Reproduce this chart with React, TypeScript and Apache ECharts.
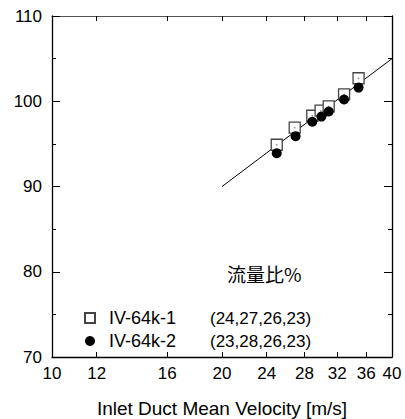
import React, { useEffect, useRef } from "react";
import * as echarts from "echarts";

const xTickValues = [10, 12, 16, 20, 24, 28, 32, 36, 40];
const seriesNames = ["IV-64k-1", "IV-64k-2"];
const flowRatios = ["(24,27,26,23)", "(23,28,26,23)"];
const velocity1 = [25.0, 26.9, 28.9, 29.9, 30.9, 32.9, 34.9];
const value1 = [94.9, 96.9, 98.3, 98.9, 99.4, 100.8, 102.7];
const velocity2 = [25.0, 27.0, 28.9, 30.0, 30.9, 32.9, 34.9];
const value2 = [93.9, 95.9, 97.6, 98.2, 98.8, 100.2, 101.6];
const fitX = [20, 40];
const fitY = [90, 105];
const annotation = "流量比%";
const xTitle = "Inlet Duct Mean Velocity [m/s]";

const FONT = "Liberation Sans, Arial, sans-serif";

export default function App() {
  const ref = useRef<HTMLDivElement>(null);
  useEffect(() => {
    if (!ref.current) return;
    const chart = echarts.init(ref.current, null, { renderer: "svg" });
    const pts = (xs: number[], ys: number[]) => xs.map((x, i) => [x, ys[i]]);
    const xBase = {
      type: "log",
      logBase: 10,
      min: 10,
      max: 40,
      splitLine: { show: false },
      minorTick: { show: false },
    };
    const option: any = {
      animation: false,
      backgroundColor: "#fff",
      textStyle: { fontFamily: FONT },
      grid: { left: 52, right: 13, top: 16, bottom: 62, containLabel: false, outerBoundsMode: "none" },
      title: {
        text: annotation,
        left: 222,
        top: 259,
        textStyle: {
          fontFamily: "Noto Sans CJK JP",
          fontSize: 19,
          fontWeight: "normal",
          color: "#000",
        },
      },
      legend: {
        orient: "vertical",
        left: 79,
        top: 304,
        itemGap: 5,
        itemWidth: 10,
        itemHeight: 10,
        data: [
          { name: seriesNames[0], icon: "rect" },
          { name: seriesNames[1], icon: "circle" },
        ],
        formatter: (name: string) =>
          `{a|${name}}{b|${flowRatios[seriesNames.indexOf(name)]}}`,
        textStyle: {
          color: "#000",
          fontSize: 17,
          fontFamily: FONT,
          rich: {
            a: { fontSize: 18, fontFamily: FONT, color: "#000", width: 101, padding: [0, 0, 0, 9] },
            b: { fontSize: 17, fontFamily: FONT, color: "#000" },
          },
        },
      },
      xAxis: [
        {
          ...xBase,
          position: "bottom",
          name: xTitle,
          nameLocation: "middle",
          nameGap: 42,
          nameTextStyle: { fontSize: 19, color: "#000", fontFamily: FONT },
          axisLine: { show: true, lineStyle: { color: "#000", width: 1.3 } },
          axisTick: { show: true, inside: true, length: 5, customValues: xTickValues, lineStyle: { color: "#000" } },
          axisLabel: {
            show: true,
            customValues: xTickValues,
            fontSize: 17,
            color: "#000",
            margin: 8,
            fontFamily: FONT,
            formatter: (v: number) => String(Math.round(v)),
          },
        },
        {
          ...xBase,
          position: "top",
          axisLine: { show: true, lineStyle: { color: "#555", width: 1.2 } },
          axisTick: { show: true, inside: true, length: 5, customValues: xTickValues, lineStyle: { color: "#000" } },
          axisLabel: { show: false },
        },
      ],
      yAxis: [
        {
          type: "value",
          position: "left",
          min: 70,
          max: 110,
          interval: 10,
          splitLine: { show: false },
          axisLine: { show: true, lineStyle: { color: "#000", width: 1.3 } },
          axisTick: { show: true, inside: true, length: 8, lineStyle: { color: "#000" } },
          minorTick: { show: true, splitNumber: 2, length: 4, lineStyle: { color: "#000" } },
          axisLabel: { fontSize: 17, color: "#000", margin: 10, fontFamily: FONT },
        },
        {
          type: "value",
          position: "right",
          min: 70,
          max: 110,
          interval: 10,
          splitLine: { show: false },
          axisLine: { show: true, lineStyle: { color: "#000", width: 1.3 } },
          axisTick: { show: true, inside: true, length: 8, lineStyle: { color: "#000" } },
          minorTick: { show: true, splitNumber: 2, length: 4, lineStyle: { color: "#000" } },
          axisLabel: { show: false },
        },
      ],
      series: [
        {
          name: "fit",
          type: "line",
          data: pts(fitX, fitY),
          symbol: "none",
          lineStyle: { color: "#000", width: 1 },
          z: 1,
        },
        {
          name: seriesNames[0],
          type: "scatter",
          data: pts(velocity1, value1),
          symbol: "rect",
          symbolSize: 11,
          itemStyle: { color: "#fff", borderColor: "#444", borderWidth: 1.3, opacity: 1 },
          z: 2,
        },
        {
          name: "center",
          type: "scatter",
          data: pts(velocity1, value1),
          symbol: "circle",
          symbolSize: 1.6,
          itemStyle: { color: "#777" },
          silent: true,
          z: 3,
        },
        {
          name: seriesNames[1],
          type: "scatter",
          data: pts(velocity2, value2),
          symbol: "circle",
          symbolSize: 10,
          itemStyle: { color: "#000", opacity: 1 },
          z: 4,
        },
      ],
    };
    chart.setOption(option);
    return () => chart.dispose();
  }, []);
  return (
    <div
      ref={ref}
      style={{ position: "fixed", left: 0, top: 0, width: 405, height: 419, background: "#fff" }}
    />
  );
}
